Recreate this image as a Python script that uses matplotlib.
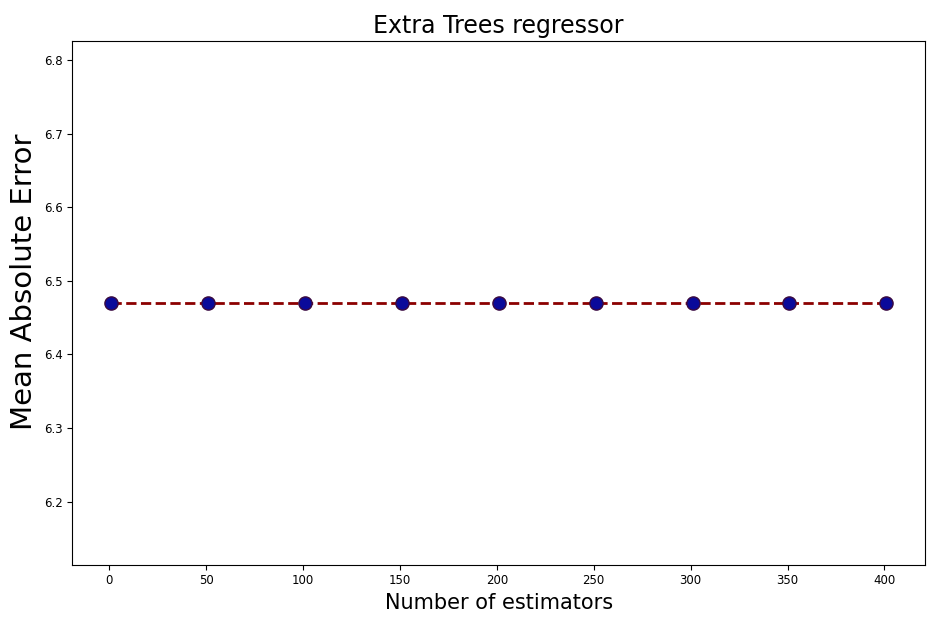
import matplotlib
matplotlib.use("Agg")
import matplotlib.pyplot as plt

n_estimators = [1, 51, 101, 151, 201, 251, 301, 351, 401]
mae = [6.47, 6.47, 6.47, 6.47, 6.47, 6.47, 6.47, 6.47, 6.47]

fig = plt.figure(figsize=(9.27, 6.31), dpi=100)
ax = fig.add_axes([0.078, 0.105, 0.92, 0.83])
ax.plot(n_estimators, mae, color='darkred', linestyle='dashed', linewidth=2,
        marker='o', markerfacecolor='#0a0a9a', markeredgecolor='#3a0a40', markersize=9.5)
ax.set_title('Extra Trees regressor', fontsize=17)
ax.set_xlabel('Number of estimators', fontsize=15)
ax.set_ylabel('Mean Absolute Error', fontsize=21)
ax.yaxis.set_label_coords(-0.04, 0.54)
ax.tick_params(labelsize=8.5)
fig.savefig('out.png', dpi=100)
